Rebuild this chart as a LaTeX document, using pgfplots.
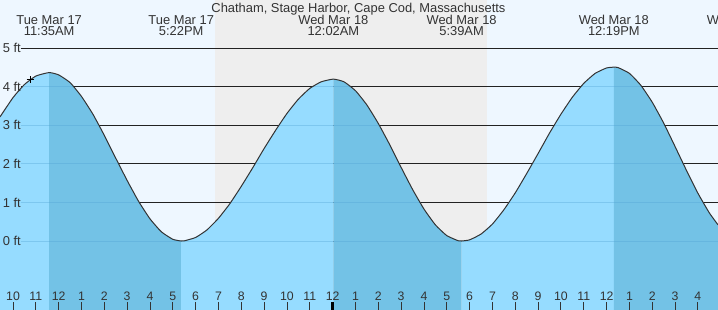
\documentclass[border=0pt]{standalone}
\usepackage{fontspec}
\setmainfont{Liberation Sans}
\usepackage{pgfplots}
\pgfplotsset{compat=1.18}
\definecolor{daysky}{RGB}{238,247,255}
\definecolor{nightsky}{RGB}{238,238,238}
\definecolor{waterlight}{RGB}{150,220,255}
\definecolor{waterdark}{RGB}{115,194,230}
\definecolor{txt}{RGB}{51,51,51}
\definecolor{gridblack}{RGB}{34,34,34}
\definecolor{gridin}{RGB}{80,160,210}
\newcommand{\lblfont}{\fontsize{12.9}{13}\selectfont}
\newcommand{\evlabel}[3]{%
  \node[anchor=base,inner sep=0pt,text=txt,font=\lblfont] at (axis cs:#1,5.63) {#2};
  \node[anchor=base,inner sep=0pt,text=txt,font=\lblfont] at (axis cs:#1,5.32) {#3};}
\begin{document}
\begin{tikzpicture}
\begin{axis}[
  width=718pt, height=310pt, scale only axis,
  xmin=9.43, xmax=40.88, ymin=-1.79, ymax=6.253,
  axis x line*=bottom, axis y line=none,
  axis line style={draw=none},
  axis background/.style={fill=daysky},
  axis on top,
  xtick={10,...,40},
  xticklabels={10,11,12,1,2,3,4,5,6,7,8,9,10,11,12,1,2,3,4,5,6,7,8,9,10,11,12,1,2,3,4},
  tick align=inside, major tick length=8pt,
  tick style={color=txt, line width=0.9pt},
  xticklabel style={anchor=base, yshift=9.5pt, inner sep=0pt, font=\fontsize{12.3}{12}\selectfont, text=txt},
  /pgf/number format/assume math mode=true,
  ytick=\empty,
  extra x ticks={24}, extra x tick labels={},
  extra x tick style={major tick style={line width=2.6pt, color=black}},
  clip=true,
]
% night band
\addplot[draw=none, fill=nightsky] coordinates {(18.85,-1.79) (18.85,6.253) (30.76,6.253) (30.76,-1.79)};
% black grid lines
\addplot[gridblack, line width=0.9pt] coordinates {(10.337,5) (40.88,5)};
\addplot[gridblack, line width=0.9pt] coordinates {(10.337,4) (40.88,4)};
\addplot[gridblack, line width=0.9pt] coordinates {(10.337,3) (40.88,3)};
\addplot[gridblack, line width=0.9pt] coordinates {(10.337,2) (40.88,2)};
\addplot[gridblack, line width=0.9pt] coordinates {(10.337,1) (40.88,1)};
\addplot[gridblack, line width=0.9pt] coordinates {(10.337,0) (40.88,0)};
% water: rising (light) and falling (dark)
\addplot[draw=none, fill=waterlight] coordinates {(9.43,-1.79) (9.43,3.22) (10,3.72) (10.5,4.06) (11,4.28) (11.583,4.37) (11.583,-1.79)};
\addplot[draw=none, fill=waterdark] coordinates {(11.583,-1.79) (11.583,4.37) (12,4.31) (12.5,4.11) (13,3.75) (13.5,3.29) (14,2.74) (14.5,2.15) (15,1.57) (15.5,1.03) (16,0.575) (16.5,0.238) (17,0.044) (17.367,0) (17.367,-1.79)};
\addplot[draw=none, fill=waterlight] coordinates {(17.367,-1.79) (17.367,0) (17.5,0.004) (18,0.092) (18.5,0.29) (19,0.59) (19.5,0.97) (20,1.42) (20.5,1.90) (21,2.40) (21.5,2.87) (22,3.31) (22.5,3.68) (23,3.96) (23.5,4.13) (24.033,4.2) (24.033,-1.79)};
\addplot[draw=none, fill=waterdark] coordinates {(24.033,-1.79) (24.033,4.2) (24.5,4.13) (25,3.90) (25.5,3.53) (26,3.05) (26.5,2.50) (27,1.91) (27.5,1.34) (28,0.83) (28.5,0.42) (29,0.14) (29.5,0.007) (29.65,0) (29.65,-1.79)};
\addplot[draw=none, fill=waterlight] coordinates {(29.65,-1.79) (29.65,0) (30,0.03) (30.5,0.18) (31,0.44) (31.5,0.81) (32,1.25) (32.5,1.75) (33,2.27) (33.5,2.80) (34,3.29) (34.5,3.73) (35,4.09) (35.5,4.35) (36,4.49) (36.317,4.51) (36.317,-1.79)};
\addplot[draw=none, fill=waterdark] coordinates {(36.317,-1.79) (36.317,4.51) (36.5,4.50) (37,4.35) (37.5,4.04) (38,3.60) (38.5,3.06) (39,2.45) (39.5,1.83) (40,1.24) (40.5,0.73) (40.88,0.42) (40.88,-1.79)};
% faint grid lines under water
\addplot[gridin, opacity=0.35, line width=0.9pt] coordinates {(10.337,0) (40.88,0)};
\addplot[gridin, opacity=0.35, line width=0.9pt] coordinates {(10.337,1) (15.533,1)};
\addplot[gridin, opacity=0.35, line width=0.9pt] coordinates {(19.533,1) (27.833,1)};
\addplot[gridin, opacity=0.35, line width=0.9pt] coordinates {(31.716,1) (40.235,1)};
\addplot[gridin, opacity=0.35, line width=0.9pt] coordinates {(10.337,2) (14.629,2)};
\addplot[gridin, opacity=0.35, line width=0.9pt] coordinates {(20.6,2) (26.924,2)};
\addplot[gridin, opacity=0.35, line width=0.9pt] coordinates {(32.74,2) (39.363,2)};
\addplot[gridin, opacity=0.35, line width=0.9pt] coordinates {(10.337,3) (13.764,3)};
\addplot[gridin, opacity=0.35, line width=0.9pt] coordinates {(21.648,3) (26.045,3)};
\addplot[gridin, opacity=0.35, line width=0.9pt] coordinates {(33.704,3) (38.549,3)};
\addplot[gridin, opacity=0.35, line width=0.9pt] coordinates {(10.41,4) (12.65,4)};
\addplot[gridin, opacity=0.35, line width=0.9pt] coordinates {(23.12,4) (24.78,4)};
\addplot[gridin, opacity=0.35, line width=0.9pt] coordinates {(34.875,4) (37.545,4)};
% tide curve
\addplot[color=txt, line width=1pt, smooth, tension=0.3] coordinates {(9.43,3.22) (10,3.72) (10.5,4.06) (11,4.28) (11.583,4.37) (12,4.31) (12.5,4.11) (13,3.75) (13.5,3.29) (14,2.74) (14.5,2.15) (15,1.57) (15.5,1.03) (16,0.575) (16.5,0.238) (17,0.044) (17.367,0) (17.5,0.004) (18,0.092) (18.5,0.29) (19,0.59) (19.5,0.97) (20,1.42) (20.5,1.90) (21,2.40) (21.5,2.87) (22,3.31) (22.5,3.68) (23,3.96) (23.5,4.13) (24.033,4.2) (24.5,4.13) (25,3.90) (25.5,3.53) (26,3.05) (26.5,2.50) (27,1.91) (27.5,1.34) (28,0.83) (28.5,0.42) (29,0.14) (29.5,0.007) (29.65,0) (30,0.03) (30.5,0.18) (31,0.44) (31.5,0.81) (32,1.25) (32.5,1.75) (33,2.27) (33.5,2.80) (34,3.29) (34.5,3.73) (35,4.09) (35.5,4.35) (36,4.49) (36.317,4.51) (36.5,4.50) (37,4.35) (37.5,4.04) (38,3.60) (38.5,3.06) (39,2.45) (39.5,1.83) (40,1.24) (40.5,0.73) (40.88,0.42)};
% current time marker
\addplot[only marks, mark=+, mark size=3.5pt, black, line width=0.8pt] coordinates {(10.745,4.18)};
% y labels
\node[anchor=west,inner sep=0pt,text=txt,font=\lblfont] at (axis cs:9.43,5) {\hspace*{2.7pt}5 ft};
\node[anchor=west,inner sep=0pt,text=txt,font=\lblfont] at (axis cs:9.43,4) {\hspace*{2.7pt}4 ft};
\node[anchor=west,inner sep=0pt,text=txt,font=\lblfont] at (axis cs:9.43,3) {\hspace*{2.7pt}3 ft};
\node[anchor=west,inner sep=0pt,text=txt,font=\lblfont] at (axis cs:9.43,2) {\hspace*{2.7pt}2 ft};
\node[anchor=west,inner sep=0pt,text=txt,font=\lblfont] at (axis cs:9.43,1) {\hspace*{2.7pt}1 ft};
\node[anchor=west,inner sep=0pt,text=txt,font=\lblfont] at (axis cs:9.43,0) {\hspace*{2.7pt}0 ft};
% title and event labels
\node[anchor=base,inner sep=0pt,text=txt,font=\lblfont] at (axis cs:25.13,5.934) {Chatham, Stage Harbor, Cape Cod, Massachusetts};
\evlabel{11.583}{Tue Mar 17}{11:35AM}
\evlabel{17.367}{Tue Mar 17}{5:22PM}
\evlabel{24.033}{Wed Mar 18}{12:02AM}
\evlabel{29.65}{Wed Mar 18}{5:39AM}
\evlabel{36.317}{Wed Mar 18}{12:19PM}
\evlabel{41.93}{Wed Mar 18}{5:58PM}
\end{axis}
\pgfresetboundingbox
\path[use as bounding box] (current axis.south west) rectangle (current axis.north east);
\end{tikzpicture}
\end{document}
